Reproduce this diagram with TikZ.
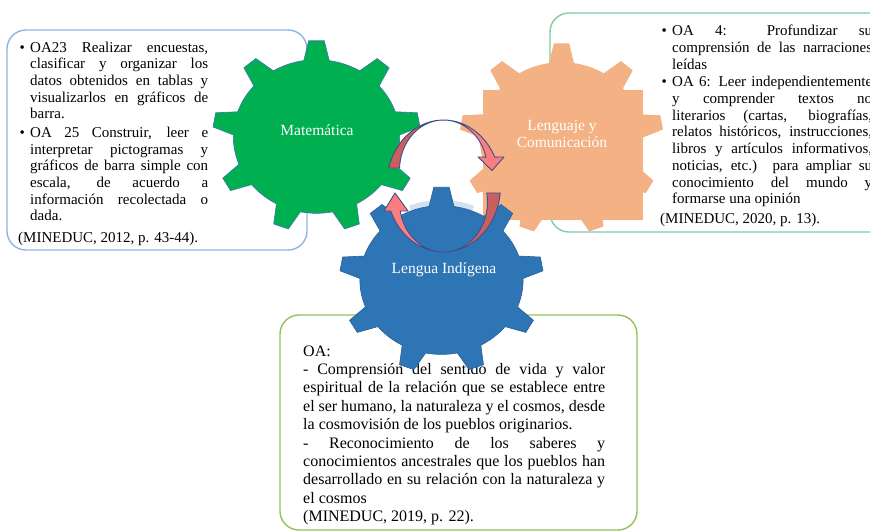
\documentclass[tikz,border=0pt]{standalone}
\usepackage{fontspec}
\setmainfont{Liberation Serif}
\usetikzlibrary{calc}
\definecolor{gearGreen}{HTML}{00B050}
\definecolor{gearGreenLine}{HTML}{3F74A8}
\definecolor{gearOrange}{HTML}{F4B183}
\definecolor{gearBlue}{HTML}{2E75B6}
\definecolor{gearBlueLine}{HTML}{2B5E93}
\definecolor{lboxLine}{HTML}{8DB4E2}
\definecolor{rboxLine}{HTML}{7FCFA3}
\definecolor{bboxLine}{HTML}{92C35B}
\definecolor{arrLight}{HTML}{FA7D80}
\definecolor{arrDark}{HTML}{C9605F}
\definecolor{arrLine}{HTML}{3E4F8A}
\definecolor{haloBlue}{HTML}{D2E2F3}

% gear with 9 teeth: centre x, centre y, x radius, y radius, path style
\newcommand{\gearshape}[5]{%
  \begin{scope}[shift={(#1,#2)},xscale=#3,yscale=#4]
    \path[#5] (-98.8:0.8) \foreach \k in {0,...,8}{
      -- ({-94.3+40*\k}:1) -- ({-85.7+40*\k}:1) -- ({-81.2+40*\k}:0.8)
      arc[start angle={-81.2+40*\k}, end angle={-58.8+40*\k}, radius=0.8]} -- cycle;
  \end{scope}}

\newcommand{\upperarrow}[1]{%
  \path[#1] ($(ringc)+(195.8:57 and 66)$)
    arc[start angle=195.8, end angle=334, x radius=57, y radius=66]
    -- (504,157) -- (492,170.5) -- (478,157)
    -- ($(upc)+(345:44 and 50)$)
    arc[start angle=345, end angle=182.3, x radius=44, y radius=50] -- cycle;}

\newcommand{\lowerarrow}[1]{%
  \path[#1] ($(ringc)+(6.1:57 and 66)$)
    arc[start angle=6.1, end angle=157.7, x radius=57, y radius=66]
    -- (384,211) -- (395,193) -- (408,211)
    -- ($(loc)+(169.6:44 and 50)$)
    arc[start angle=169.6, end angle=-10.4, x radius=44, y radius=50] -- cycle;}

\newcommand{\bul}{\hangindent=12pt\hangafter=1\noindent\makebox[12pt][l]{\hspace{1.5pt}\textbullet}}

\tikzset{
  box/.style={draw, rounded corners=19, line width=1.4, fill=white, inner sep=0},
  smalltext/.style={inner sep=0, align=justify, text=black,
    font=\fontsize{15}{16.7}\selectfont, anchor=base west},
  bigtext/.style={inner sep=0, align=justify, text=black,
    font=\fontsize{16}{18.4}\selectfont, anchor=base west},
  glabel/.style={text=white, font=\fontsize{15.5}{17}\selectfont, align=center, inner sep=0},
}

\begin{document}
\begin{tikzpicture}[x=1pt,y=-1pt]
\useasboundingbox (0,0) rectangle (870,531);
\fill[white] (0,0) rectangle (870,531);

% boxes
\node[box, draw=lboxLine, minimum width=300, minimum height=220] (lbox) at (157,140) {};
\node[box, draw=rboxLine, minimum width=350, minimum height=219] (rbox) at (725,122.5) {};
\node[box, draw=bboxLine, minimum width=357, minimum height=215] (bbox) at (458.5,422.5) {};

% texts
\node[smalltext, text width=190] (ltxt) at (18,52) {%
\bul OA23 Realizar encuestas,\linebreak clasificar y organizar los\linebreak datos obtenidos en tablas y\linebreak visualizarlos en gráficos de\linebreak barra.\par
\vspace{1.8pt}\bul OA 25 Construir, leer e\linebreak interpretar pictogramas y\linebreak gráficos de barra simple con\linebreak escala, de acuerdo a\linebreak información recolectada o\linebreak dada.\par
\vspace{4.8pt}\noindent(MINEDUC, 2012, p. 43-44).};

\node[smalltext, text width=212] (rtxt) at (660,35.7) {%
\bul OA 4: Profundizar su\linebreak comprensión de las narraciones\linebreak leídas\par
\vspace{1pt}\bul OA 6: Leer independientemente\linebreak y comprender textos no\linebreak literarios (cartas, biografías,\linebreak relatos históricos, instrucciones,\linebreak libros y artículos informativos,\linebreak noticias, etc.) para ampliar su\linebreak conocimiento del mundo y\linebreak formarse una opinión\par
\vspace{2.9pt}\noindent(MINEDUC, 2020, p. 13).};

\node[bigtext, text width=302] (btxt) at (303,356) {%
\noindent OA:\par
\noindent - Comprensión del sentido de vida y valor\linebreak espiritual de la relación que se establece entre\linebreak el ser humano, la naturaleza y el cosmos, desde\linebreak la cosmovisión de los pueblos originarios.\par
\noindent - Reconocimiento de los saberes y\linebreak conocimientos ancestrales que los pueblos han\linebreak desarrollado en su relación con la naturaleza y\linebreak el cosmos\par
\noindent(MINEDUC, 2019, p. 22).};

% gears
\gearshape{316.5}{136.5}{104}{96}{fill=gearGreen, draw=gearGreenLine, line width=0.6}
\gearshape{561.5}{139}{102}{96}{fill=gearOrange}
\fill[gearOrange] (483,90) rectangle (643,220);
\coordinate (bluec) at (441.5,280);
\draw[haloBlue, line width=6] ($(bluec)+(248:84 and 77)$) arc[start angle=248, end angle=292, x radius=84, y radius=77];
\gearshape{441.5}{280}{102}{93}{fill=gearBlue, draw=gearBlueLine, line width=0.6}

% labels
\node[glabel] (matl) at (317,130) {Matemática};
\node[glabel] (lenl) at (562,133.5) {Lenguaje y\\Comunicación};
\node[glabel] (indl) at (444,270) {Lengua Indígena};

% circular arrows
\coordinate (ringc) at (443.5,186);
\coordinate (upc) at (443.5,170);
\coordinate (loc) at (443.5,202);
\upperarrow{fill=arrLight}
\begin{scope}
  \clip (0,0) rectangle (443.5,531);
  \upperarrow{fill=arrDark}
\end{scope}
\upperarrow{draw=arrLine, line width=0.9, line join=round}
\lowerarrow{fill=arrLight}
\begin{scope}
  \clip (443.5,0) rectangle (870,531);
  \lowerarrow{fill=arrDark}
\end{scope}
\lowerarrow{draw=arrLine, line width=0.9, line join=round}
\end{tikzpicture}
\end{document}
